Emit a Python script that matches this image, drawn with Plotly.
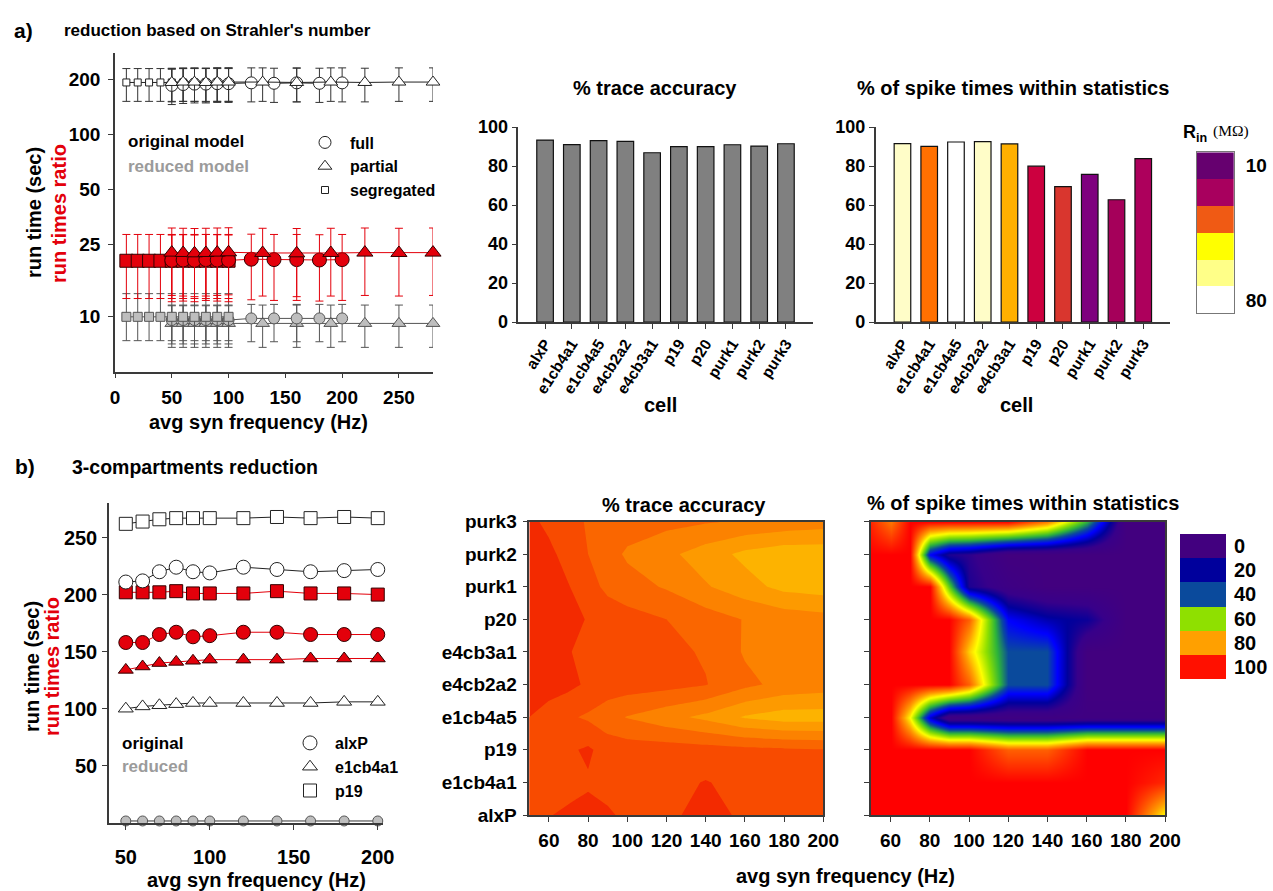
import math
import plotly.graph_objects as go

W, H = 1273, 891
FONT = "Arial, 'Liberation Sans', Helvetica, sans-serif"
SERIF = "'Liberation Serif', 'Times New Roman', serif"
RED = "#E3000B"
GREY = "#BEBEBE"
GREY_TXT = "#9B9B9B"


def fx(p):
    return p / W


def fy(p):
    return 1 - p / H


# ---------------- data: panel a) left (log run times) ----------------
seg_x = [10, 20, 30, 40, 50, 60, 70, 80, 90, 100]
full_x = [50, 60, 70, 80, 90, 100, 120, 140, 160, 180, 200]
part_x = [50, 60, 70, 80, 90, 100, 130, 160, 190, 220, 250, 280]

seg_orig = [193, 193, 193, 193, 193, 193, 193, 193, 193, 193]
seg_orig_ep = [37, 37, 37, 37, 37, 37, 37, 37, 37, 37]
seg_orig_em = [41, 41, 41, 41, 41, 41, 41, 41, 41, 41]
full_orig = [186, 188, 189, 189, 190, 190, 192, 191, 192, 191, 192]
full_orig_ep = [42, 42, 42, 42, 42, 42, 40, 40, 40, 40, 40]
full_orig_em = [40, 40, 40, 40, 40, 40, 41, 41, 41, 41, 41]
part_orig = [193, 194, 194, 193, 194, 194, 194, 193, 194, 193, 194, 194]
part_orig_ep = [38, 38, 38, 38, 38, 38, 38, 38, 38, 38, 38, 38]
part_orig_em = [42, 42, 42, 42, 42, 42, 42, 42, 42, 42, 42, 42]

seg_ratio = [20.3, 20.3, 20.3, 20.3, 20.3, 20.3, 20.3, 20.3, 20.3, 20.3]
seg_ratio_ep = [8.0, 8.0, 8.0, 8.0, 8.0, 8.0, 8.0, 8.0, 8.0, 8.0]
seg_ratio_em = [7.7, 7.7, 7.7, 7.7, 7.7, 7.7, 7.7, 7.7, 7.7, 7.7]
full_ratio = [20.4, 20.5, 20.4, 20.6, 20.5, 20.4, 20.7, 20.6, 20.6, 20.5, 20.6]
full_ratio_ep = [7.7, 7.7, 7.7, 7.7, 7.7, 7.7, 7.7, 7.7, 7.7, 7.7, 7.7]
full_ratio_em = [8.3, 8.3, 8.3, 8.3, 8.3, 8.3, 8.3, 8.3, 8.3, 8.3, 8.3]
part_ratio = [22.5, 22.4, 22.3, 22.4, 22.5, 22.6, 22.4, 22.3, 22.4, 22.5, 22.4, 22.5]
part_ratio_ep = [8.2, 8.2, 8.2, 8.2, 8.2, 8.2, 8.2, 8.2, 8.2, 8.2, 8.2, 8.2]
part_ratio_em = [9.4, 9.4, 9.4, 9.4, 9.4, 9.4, 9.4, 9.4, 9.4, 9.4, 9.4, 9.4]

seg_red = [10.0, 10.0, 10.0, 10.0, 10.0, 10.0, 10.0, 10.0, 10.0, 10.0]
seg_red_ep = [3.4, 3.4, 3.4, 3.4, 3.4, 3.4, 3.4, 3.4, 3.4, 3.4]
seg_red_em = [2.6, 2.6, 2.6, 2.6, 2.6, 2.6, 2.6, 2.6, 2.6, 2.6]
full_red = [9.6, 9.6, 9.6, 9.6, 9.6, 9.6, 9.8, 9.8, 9.8, 9.8, 9.8]
full_red_ep = [1.9, 1.9, 1.9, 1.9, 1.9, 1.9, 1.9, 1.9, 1.9, 1.9, 1.9]
full_red_em = [2.5, 2.5, 2.5, 2.5, 2.5, 2.5, 2.5, 2.5, 2.5, 2.5, 2.5]
part_red = [9.2, 9.2, 9.2, 9.2, 9.2, 9.2, 9.2, 9.2, 9.2, 9.2, 9.2, 9.2]
part_red_ep = [2.4, 2.4, 2.4, 2.4, 2.4, 2.4, 2.4, 2.4, 2.4, 2.4, 2.4, 2.4]
part_red_em = [2.4, 2.4, 2.4, 2.4, 2.4, 2.4, 2.4, 2.4, 2.4, 2.4, 2.4, 2.4]

a_xticks = [0, 50, 100, 150, 200, 250]
a_yticks = [10, 25, 50, 100, 200]

# ---------------- data: panel a) bars ----------------
cells = ["alxP", "e1cb4a1", "e1cb4a5", "e4cb2a2", "e4cb3a1",
         "p19", "p20", "purk1", "purk2", "purk3"]
trace_acc = [93.3, 91.0, 93.0, 92.6, 86.8, 89.9, 89.9, 90.9, 90.2, 91.4]
spike_acc = [91.5, 90.1, 92.3, 92.5, 91.3, 79.9, 69.4, 75.7, 62.7, 83.8]
cell_rin_colors = ["#FFFDC8", "#FF7000", "#FFFFFF", "#FFFDC8", "#FFB000",
                   "#CC003F", "#D9362E", "#7E007E", "#A5005A", "#AD005C"]
rin_levels = [80, 66, 52, 38, 24, 10]
rin_scale = [[0.0, "#66006F"], [0.2, "#A8005E"], [0.4, "#F05A14"],
             [0.6, "#FFFF00"], [0.8, "#FFFF88"], [1.0, "#FFFFFF"]]
bar_yticks = [0, 20, 40, 60, 80, 100]

# ---------------- data: panel b) left ----------------
b_x = [50, 60, 70, 80, 90, 100, 120, 140, 160, 180, 200]
p19_orig = [262, 264, 266, 267, 267, 267, 267, 268, 267, 268, 267]
alxp_orig = [211, 212, 220, 224, 220, 219, 224, 222, 220, 221, 222]
p19_ratio = [202, 202, 202, 203, 201, 201, 201, 203, 201, 201, 200]
alxp_ratio = [158, 158, 165, 167, 163, 164, 167, 167, 165, 165, 165]
e1_ratio = [134, 137, 140, 141, 142, 143, 143, 143, 144, 144, 144]
e1_orig = [100, 102, 103, 104, 105, 105, 105, 105, 105, 106, 106]
b_reduced = [1.6, 1.6, 1.6, 1.6, 1.6, 1.6, 1.6, 1.6, 1.6, 1.6, 1.6]
b_xticks = [50, 100, 150, 200]
b_yticks = [50, 100, 150, 200, 250]

# ---------------- data: panel b) maps ----------------
map_x = [50, 60, 70, 80, 90, 100, 120, 140, 160, 180, 200]
map_cells = ["alxP", "e1cb4a1", "p19", "e1cb4a5", "e4cb2a2",
             "e4cb3a1", "p20", "purk1", "purk2", "purk3"]
map_xticks = [60, 80, 100, 120, 140, 160, 180, 200]
trace_map = [
    [86.3, 86.1, 85.6, 85.5, 85.8, 86.3, 86.5, 85.2, 86.4, 86.6, 86.7],
    [86.5, 87.0, 86.8, 86.2, 86.5, 86.8, 86.6, 85.9, 86.6, 86.8, 87.0],
    [86.5, 87.0, 86.3, 85.7, 86.8, 87.0, 87.0, 87.2, 87.5, 87.7, 87.9],
    [86.0, 87.0, 87.7, 88.3, 89.3, 90.1, 91.3, 92.5, 94.2, 95.0, 95.0],
    [84.8, 85.0, 85.5, 86.3, 86.8, 87.0, 87.3, 87.9, 89.5, 90.6, 91.0],
    [84.5, 84.7, 85.9, 86.5, 86.8, 87.0, 87.5, 88.2, 90.2, 90.8, 91.0],
    [84.5, 84.5, 85.0, 86.2, 86.8, 87.2, 88.0, 89.0, 90.1, 90.8, 91.2],
    [85.0, 85.2, 85.9, 87.2, 88.5, 89.2, 90.2, 91.8, 93.2, 94.6, 95.0],
    [84.5, 85.5, 86.8, 88.0, 89.2, 90.3, 91.5, 93.0, 94.5, 95.3, 95.3],
    [85.5, 86.5, 87.3, 88.2, 88.7, 89.0, 89.4, 89.8, 90.2, 90.6, 91.0],
]
trace_band_colors = ["#F32A00", "#F84B00", "#FA6600", "#FC8200", "#FD9A00", "#FDB300"]

spike_map = [
    [100, 100, 100, 100, 100, 100, 100, 100, 100, 100, 70],
    [100, 100, 100, 100, 100, 100, 100, 100, 100, 100, 95],
    [100, 100, 100, 100, 100, 100, 88, 88, 100, 100, 100],
    [100, 100, 70, 25, 3, 3, 3, 3, 3, 3, 3],
    [100, 100, 100, 100, 100, 88, 40, 40, 0, 0, 0],
    [100, 100, 100, 100, 100, 75, 40, 40, 0, 0, 0],
    [100, 100, 100, 100, 100, 88, 30, 22, 18, 0, 0],
    [100, 100, 100, 100, 55, 15, 5, 0, 0, 0, 0],
    [100, 100, 100, 30, 15, 12, 0, 0, 0, 0, 0],
    [95, 85, 100, 100, 100, 100, 100, 85, 50, 0, 0],
]
spike_scale = [[0.0, "#42007F"], [0.1, "#38008A"], [0.2, "#00009C"], [0.3, "#0000FF"],
               [0.4, "#0A4A9C"], [0.5, "#2DB43A"], [0.6, "#8FE000"], [0.7, "#FFFF00"],
               [0.8, "#FFA000"], [0.9, "#FF5000"], [1.0, "#FF0000"]]
spike_levels = [100, 80, 60, 40, 20, 0]
spike_legend_scale = [[0.0, "#42007F"], [0.2, "#00009C"], [0.4, "#0A4A9C"],
                      [0.6, "#8FE000"], [0.8, "#FFA000"], [1.0, "#FF1000"]]

fig = go.Figure()


def series(x, y, symbol, size, fill, outline, lcolor, xa, ya, ep=None, em=None, ecolor=None):
    kw = {}
    if ep is not None:
        kw["error_y"] = dict(type="data", symmetric=False, array=ep, arrayminus=em,
                             color=ecolor, thickness=1, width=4)
    return go.Scatter(x=x, y=y, mode="lines+markers", line=dict(color=lcolor, width=1),
                      marker=dict(symbol=symbol, size=size, color=fill,
                                  line=dict(color=outline, width=1)),
                      cliponaxis=False, showlegend=False, xaxis=xa, yaxis=ya, **kw)


# ---- a) left
fig.add_trace(series(part_x, part_red, "triangle-up", 12, GREY, "#555", "#555", "x", "y",
                     part_red_ep, part_red_em, "#555"))
fig.add_trace(series(full_x, full_red, "circle", 11, GREY, "#555", "#555", "x", "y",
                     full_red_ep, full_red_em, "#555"))
fig.add_trace(series(seg_x, seg_red, "square", 9, GREY, "#555", "#555", "x", "y",
                     seg_red_ep, seg_red_em, "#555"))
fig.add_trace(series(seg_x, seg_ratio, "square", 13, RED, "#300", RED, "x", "y",
                     seg_ratio_ep, seg_ratio_em, RED))
fig.add_trace(series(full_x, full_ratio, "circle", 14, RED, "#300", RED, "x", "y",
                     full_ratio_ep, full_ratio_em, RED))
fig.add_trace(series(part_x, part_ratio, "triangle-up", 14, RED, "#300", RED, "x", "y",
                     part_ratio_ep, part_ratio_em, RED))
fig.add_trace(series(seg_x, seg_orig, "square", 7, "white", "#222", "#222", "x", "y",
                     seg_orig_ep, seg_orig_em, "#333"))
fig.add_trace(series(full_x, full_orig, "circle", 12, "white", "#222", "#222", "x", "y",
                     full_orig_ep, full_orig_em, "#333"))
fig.add_trace(series(part_x, part_orig, "triangle-up", 12, "white", "#222", "#222", "x", "y",
                     part_orig_ep, part_orig_em, "#333"))

for name, sym, sz in [("full", "circle", 12), ("partial", "triangle-up", 12), ("segregated", "square", 7)]:
    fig.add_trace(go.Scatter(x=[None], y=[None], mode="markers", name=name,
                             marker=dict(symbol=sym, size=sz, color="white",
                                         line=dict(color="#222", width=1)),
                             xaxis="x", yaxis="y", legend="legend", showlegend=True))

# ---- a) bars
fig.add_trace(go.Bar(x=cells, y=trace_acc, marker=dict(color="#808080", line=dict(color="#111", width=1.2)),
                     xaxis="x2", yaxis="y2", showlegend=False))
fig.add_trace(go.Bar(x=cells, y=spike_acc, marker=dict(color=cell_rin_colors, line=dict(color="#111", width=1.2)),
                     xaxis="x3", yaxis="y3", showlegend=False))
fig.add_trace(go.Heatmap(z=[[v] for v in rin_levels], colorscale=rin_scale, zmin=10, zmax=80,
                         showscale=False, xaxis="x4", yaxis="y4", hoverinfo="skip"))

# ---- b) left
fig.add_trace(series(b_x, b_reduced, "circle", 10, GREY, "#555", "#333", "x5", "y5"))
fig.add_trace(series(b_x, e1_orig, "triangle-up", 13, "white", "#222", "#222", "x5", "y5"))
fig.add_trace(series(b_x, e1_ratio, "triangle-up", 13, RED, "#300", RED, "x5", "y5"))
fig.add_trace(series(b_x, alxp_ratio, "circle", 14, RED, "#300", RED, "x5", "y5"))
fig.add_trace(series(b_x, p19_ratio, "square", 13, RED, "#300", RED, "x5", "y5"))
fig.add_trace(series(b_x, alxp_orig, "circle", 14, "white", "#222", "#222", "x5", "y5"))
fig.add_trace(series(b_x, p19_orig, "square", 13, "white", "#222", "#222", "x5", "y5"))
for name, sym, sz in [("alxP", "circle", 14), ("e1cb4a1", "triangle-up", 13), ("p19", "square", 13)]:
    fig.add_trace(go.Scatter(x=[None], y=[None], mode="markers", name=name,
                             marker=dict(symbol=sym, size=sz, color="white",
                                         line=dict(color="#222", width=1)),
                             xaxis="x5", yaxis="y5", legend="legend2", showlegend=True))

# ---- b) maps
band_scale = []
for i, c in enumerate(trace_band_colors):
    band_scale.append([i / 6, c])
    band_scale.append([(i + 1) / 6, c])
fig.add_trace(go.Contour(x=map_x, y=map_cells, z=trace_map, colorscale=band_scale,
                         autocontour=False, contours=dict(start=86, end=94, size=2, coloring="fill"),
                         line=dict(width=0, smoothing=0), showscale=False,
                         xaxis="x6", yaxis="y6", hoverinfo="skip"))
fig.add_trace(go.Heatmap(x=map_x, y=map_cells, z=spike_map, colorscale=spike_scale, zmin=0, zmax=100,
                         zsmooth="best", showscale=False, xaxis="x7", yaxis="y7", hoverinfo="skip"))
fig.add_trace(go.Heatmap(z=[[v] for v in spike_levels], colorscale=spike_legend_scale, zmin=0, zmax=100,
                         showscale=False, xaxis="x8", yaxis="y8", hoverinfo="skip"))

# ---------------- layout ----------------
LINE = "#3A3A3A"


def tf(size):
    return dict(family=FONT, size=size, color="black", weight="bold")


common = dict(showgrid=False, zeroline=False, showline=True, linecolor=LINE, linewidth=1.5,
              ticks="outside", ticklen=5, tickcolor=LINE, tickwidth=1.2, automargin=False)
plain = dict(showgrid=False, zeroline=False, automargin=False)

layout = dict(
    width=W, height=H, margin=dict(l=0, r=0, t=0, b=0, pad=0, autoexpand=False),
    paper_bgcolor="white", plot_bgcolor="white", font=dict(family=FONT, color="black"),
    bargap=0.38,
    xaxis=dict(domain=[fx(115), fx(433)], range=[0, 280], tickvals=a_xticks, tickfont=tf(19),
               anchor="y", ticklabelstandoff=3, **common),
    yaxis=dict(domain=[fy(371.7), fy(53)], type="log", range=[math.log10(5), math.log10(280)],
               tickvals=a_yticks, tickfont=tf(19), anchor="x", ticklabelstandoff=4, **common),
    xaxis2=dict(domain=[fx(518.3), fx(812.7)], range=[-1, 10], tickangle=-57, tickfont=tf(15.5),
                anchor="y2", **common),
    yaxis2=dict(domain=[fy(322), fy(127)], range=[0, 100], tickvals=bar_yticks, tickfont=tf(18),
                anchor="x2", ticklabelstandoff=0, **common),
    xaxis3=dict(domain=[fx(875.7), fx(1170)], range=[-1, 10], tickangle=-57, tickfont=tf(15.5),
                anchor="y3", **common),
    yaxis3=dict(domain=[fy(322), fy(127)], range=[0, 100], tickvals=bar_yticks, tickfont=tf(18),
                anchor="x3", ticklabelstandoff=0, **common),
    xaxis4=dict(domain=[fx(1196.7), fx(1234)], range=[-0.5, 0.5], showticklabels=False, ticks="",
                showline=True, mirror=True, linecolor="#777", linewidth=1, anchor="y4", **plain),
    yaxis4=dict(domain=[fy(313.3), fy(152.3)], range=[-0.5, 5.5], side="right", ticks="",
                tickvals=[0, 5], ticktext=[str(rin_levels[0]), str(rin_levels[-1])], tickfont=tf(19),
                showline=True, mirror=True, linecolor="#777", linewidth=1,
                anchor="x4", ticklabelstandoff=7, **plain),
    xaxis5=dict(domain=[fx(109), fx(383.3)], range=[40, 203.3], tickvals=b_xticks, tickfont=tf(20),
                anchor="y5", ticklabelstandoff=10, **common),
    yaxis5=dict(domain=[fy(822.8), fy(503.3)], range=[0, 280], tickvals=b_yticks, tickfont=tf(20),
                anchor="x5", ticklabelstandoff=1, **common),
    xaxis6=dict(domain=[fx(529.3), fx(823.3)], range=[50, 200], tickvals=map_xticks, tickfont=tf(19),
                anchor="y6", mirror=True, ticklabelstandoff=2, **common),
    yaxis6=dict(domain=[fy(815), fy(521.5)], type="category", categoryorder="array",
                categoryarray=map_cells, range=[0, 9], tickfont=tf(19), anchor="x6",
                mirror=True, ticklabelstandoff=2, **common),
    xaxis7=dict(domain=[fx(871), fx(1165)], range=[50, 200], tickvals=map_xticks, tickfont=tf(19),
                anchor="y7", mirror=True, ticklabelstandoff=2, **common),
    yaxis7=dict(domain=[fy(815), fy(521.5)], type="category", categoryorder="array",
                categoryarray=map_cells, range=[0, 9], showticklabels=False, anchor="x7",
                mirror=True, **common),
    xaxis8=dict(domain=[fx(1180), fx(1226)], range=[-0.5, 0.5], showticklabels=False, ticks="",
                showline=False, anchor="y8", **plain),
    yaxis8=dict(domain=[fy(679), fy(534)], range=[-0.5, 5.5], side="right", ticks="",
                tickvals=list(range(len(spike_levels))), ticktext=[str(v) for v in spike_levels],
                tickfont=tf(20), showline=False, anchor="x8", ticklabelstandoff=7, **plain),
    legend=dict(x=fx(300), y=fy(125.5), xanchor="left", yanchor="top", font=tf(16),
                bgcolor="rgba(0,0,0,0)", itemwidth=40, borderwidth=0),
    legend2=dict(x=fx(285), y=fy(726), xanchor="left", yanchor="top", font=tf(16),
                 bgcolor="rgba(0,0,0,0)", itemwidth=40, borderwidth=0),
)
fig.update_layout(**layout)


def ann(text, x, y, size, color="black", xanchor="center", angle=0, bold=True, family=FONT):
    fig.add_annotation(text=text, x=fx(x), y=fy(y), xref="paper", yref="paper", showarrow=False,
                       xanchor=xanchor, yanchor="middle", textangle=angle,
                       font=dict(family=family, size=size, color=color,
                                 weight="bold" if bold else "normal"))


ann("a)", 12, 31, 21, xanchor="left")
ann("reduction based on Strahler's number", 62, 31, 17, xanchor="left")
ann("b)", 13, 467, 21, xanchor="left")
ann("3-compartments reduction", 70, 467, 19.5, xanchor="left")

ann("run time (sec)", 34, 213, 20, angle=-90)
ann("run times ratio", 59, 214, 20, color=RED, angle=-90)
ann("run time (sec)", 32, 667, 20, angle=-90)
ann("run times ratio", 52, 667, 20, color=RED, angle=-90)

ann("original model", 126, 142, 17, xanchor="left")
ann("reduced model", 126, 166, 17, color=GREY_TXT, xanchor="left")
ann("original", 120, 743, 17, xanchor="left")
ann("reduced", 120, 766, 17, color=GREY_TXT, xanchor="left")

ann("avg syn frequency (Hz)", 258, 422, 20)
ann("avg syn frequency (Hz)", 256, 880, 20)
ann("avg syn frequency (Hz)", 845, 876, 20)

ann("% trace accuracy", 655, 88, 20)
ann("% of spike times within statistics", 1013, 88, 20)
ann("cell", 660, 405, 20)
ann("cell", 1016, 405, 20)
ann("% trace accuracy", 684, 505, 20)
ann("% of spike times within statistics", 1023, 503, 20)

ann("<b>R<sub>in</sub></b>", 1181, 133, 18, xanchor="left")
ann("(M\u03a9)", 1211, 131, 15.5, xanchor="left", bold=False, family=SERIF)

fig.write_html("out.html", config={"displayModeBar": False},
               post_script="document.body.style.margin='0px';document.body.style.overflow='hidden';")
